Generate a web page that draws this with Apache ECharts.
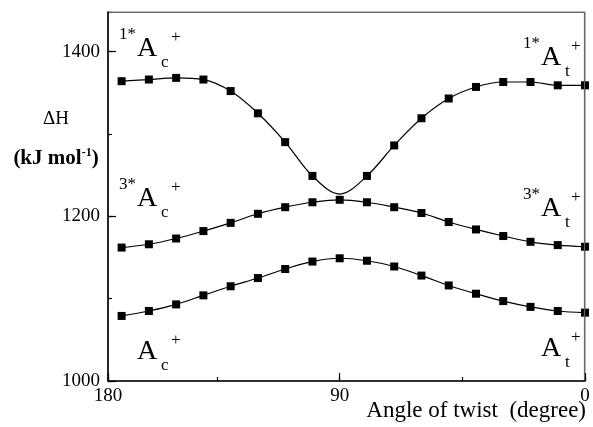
<!DOCTYPE html>
<html><head><meta charset="utf-8">
<script src="https://cdn.jsdelivr.net/npm/echarts@6/dist/echarts.min.js"></script>
<style>html,body{margin:0;padding:0;background:#fff}#c{width:593px;height:427px}</style>
</head><body><div id="c"></div>
<script>
// Angle of twist (degree)
const angles = [170,160,150,140,130,120,110,100,90,80,70,60,50,40,30,20,10,0];
// 1*A+ state (no marker drawn at 90 degree in the original; curve minimum)
const singletExcited = [1364,1366,1368,1366,1352,1325,1290,1249,1227,1249,1286,1319,1343,1357,1363,1363,1359,1359];
// 3*A+ state
const tripletExcited = [1162,1166,1173,1182,1192,1203,1211,1217,1220,1217,1211,1204,1193,1184,1176,1169,1165,1163];
// A+ ground state
const groundState = [1079,1085,1093,1104,1115,1125,1136,1145,1149,1146,1139,1128,1116,1106,1097,1090,1085,1083];
const hiddenMarkerAngles = [90]; // only for the 1* curve
const xMin = 0, xMax = 175;
const xTickLabels = {0:'0', 90:'90', 175:'180'};
const yMin = 1000, yMax = 1448;
const yTickLabels = [1000, 1200, 1400];

const SERIF = '"Liberation Serif", "Times New Roman", serif';

function pairs(vals, hideAt) {
  return angles.map((a, i) => {
    if (hideAt && hideAt.indexOf(a) >= 0) return {value: [a, vals[i]], symbol: 'none'};
    return [a, vals[i]];
  });
}

function txt(x, y, text, size, align, weight) {
  return {type: 'text', x: x, y: y, silent: true,
    style: {text: text, fill: '#000', fontSize: size, fontFamily: SERIF, fontWeight: weight || 'normal',
      align: align || 'left', verticalAlign: 'middle', textAlign: align || 'left', textVerticalAlign: 'middle'}};
}
// chemical state label: pre-superscript, big letter, subscript, superscript
function chem(ax, cy, pre, sub, supDx) {
  const out = [];
  if (pre) out.push(txt(ax - 1, cy - 14, pre, 17, 'right'));
  out.push(txt(ax, cy, 'A', 28, 'left'));
  out.push(txt(ax + 24, cy + 14, sub, 17, 'left'));
  out.push(txt(ax + supDx, cy - 11, '+', 17, 'left'));
  return out;
}

const gridBox = {left: 108, right: 8, top: 12, bottom: 46};
const W = 593, H = 427;
// top and right frame of the plot box (decoration, not data)
const frame = {type: 'polyline', silent: true, z: 10,
  shape: {points: [[gridBox.left + 1, gridBox.top + 0.5], [W - gridBox.right - 0.5, gridBox.top + 0.5], [W - gridBox.right - 0.5, H - gridBox.bottom - 1]]},
  style: {stroke: '#666666', lineWidth: 1.2, fill: 'none'}};

const graphics = [frame].concat(
  chem(137, 49, '1*', 'c', 34),
  chem(541, 58, '1*', 't', 30),
  chem(137, 199, '3*', 'c', 34),
  chem(541, 209, '3*', 't', 30),
  chem(137, 352, '', 'c', 34),
  chem(541, 349, '', 't', 30),
  [txt(56, 119, '\u0394H', 19, 'center')],
  [{type: 'text', x: 56, y: 158, silent: true,
    style: {text: '{a|(kJ mol}{s|-1}{a|)}', align: 'center', verticalAlign: 'middle', textAlign: 'center', textVerticalAlign: 'middle',
      rich: {a: {fontSize: 21, fontWeight: 'bold', fontFamily: SERIF, fill: '#000', color: '#000', lineHeight: 22, verticalAlign: 'bottom'},
             s: {fontSize: 12, fontWeight: 'bold', fontFamily: SERIF, fill: '#000', color: '#000', lineHeight: 22, verticalAlign: 'top'}}}}],
  [txt(586, 411, 'Angle of twist  (degree)', 23, 'right')]
);

const lineSeries = (vals, hide) => ({
  type: 'line', xAxisIndex: 0, yAxisIndex: 0, smooth: 0.35,
  data: pairs(vals, hide), symbol: 'rect', symbolSize: 8,
  lineStyle: {color: '#000', width: 1.2}, itemStyle: {color: '#000'},
  emphasis: {disabled: true}, animation: false, z: 3
});

const chart = echarts.init(document.getElementById('c'), null, {renderer: 'canvas'});
chart.setOption({
  animation: false,
  backgroundColor: '#fff',
  grid: [
    Object.assign({show: true, borderColor: '#7f7f7f', borderWidth: 1}, gridBox),
    Object.assign({show: false}, gridBox)
  ],
  xAxis: [
    {type: 'value', gridIndex: 0, min: xMin, max: xMax, inverse: true, interval: 90, position: 'bottom',
     axisLine: {show: true, onZero: false, lineStyle: {color: '#000', width: 1.6}},
     axisTick: {show: true, inside: true, length: 8, lineStyle: {color: '#000', width: 1.2}},
     axisLabel: {show: true, margin: 6, color: '#000', fontSize: 19, fontFamily: SERIF,
       formatter: v => (xTickLabels[v] !== undefined ? xTickLabels[v] : '')},
     splitLine: {show: false}},
    {type: 'value', gridIndex: 1, min: xMin, max: xMax, inverse: true, interval: 45, position: 'bottom',
     axisLine: {show: false, onZero: false}, axisLabel: {show: false}, splitLine: {show: false},
     axisTick: {show: true, inside: true, length: 4, lineStyle: {color: '#000', width: 1.2}}}
  ],
  yAxis: [
    {type: 'value', gridIndex: 0, min: yMin, max: yMax, interval: 200, position: 'left',
     axisLine: {show: true, onZero: false, lineStyle: {color: '#000', width: 1.6}},
     axisTick: {show: true, inside: true, length: 8, lineStyle: {color: '#000', width: 1.2}},
     axisLabel: {show: true, margin: 8, color: '#000', fontSize: 19, fontFamily: SERIF, showMaxLabel: false,
       formatter: v => (yTickLabels.indexOf(v) >= 0 ? String(v) : '')},
     splitLine: {show: false}},
    {type: 'value', gridIndex: 1, min: yMin, max: yMax, interval: 100, position: 'left',
     axisLine: {show: false, onZero: false}, axisLabel: {show: false}, splitLine: {show: false},
     axisTick: {show: true, inside: true, length: 4, lineStyle: {color: '#000', width: 1.2}}}
  ],
  series: [
    lineSeries(singletExcited, hiddenMarkerAngles),
    lineSeries(tripletExcited),
    lineSeries(groundState)
  ],
  graphic: graphics
});
</script></body></html>
